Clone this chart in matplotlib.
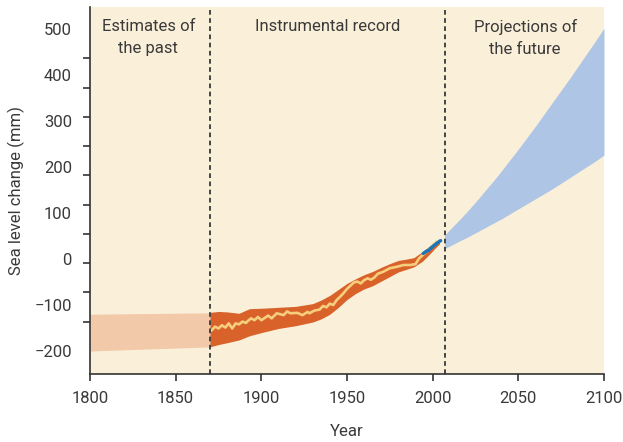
import numpy as np
import matplotlib
matplotlib.use("Agg")
import matplotlib.pyplot as plt

plt.rcParams['font.family'] = ['Roboto', 'DejaVu Sans']

# ---- data ----
past_years = [1800, 1870]
past_top = [-120, -117]
past_bottom = [-200, -191]

band_years = [1870, 1875, 1880, 1887, 1893, 1900, 1910, 1920, 1930, 1935, 1940,
              1945, 1950, 1955, 1960, 1965, 1970, 1975, 1980, 1985, 1989, 1994,
              1998, 2001, 2004]
band_top = [-116, -114, -115, -118, -108, -107, -105, -103, -97, -89, -79,
            -66, -53, -43, -34, -27, -18, -10, -3, 0, 3, 16, 28, 36, 44]
band_bottom = [-191, -186, -182, -176, -167, -160, -151, -145, -137, -130, -120,
               -105, -88, -75, -65, -58, -48, -38, -28, -22, -17, -5, 10, 22, 33]

tide_years = [1871, 1873, 1875, 1877, 1879, 1881, 1883, 1885, 1887, 1889, 1891,
              1892, 1894, 1896, 1898, 1900, 1902, 1904, 1906, 1909, 1913, 1915,
              1917, 1921, 1924, 1927, 1928, 1931, 1934, 1936, 1938, 1940, 1942,
              1944, 1946, 1948, 1950, 1952, 1954, 1956, 1958, 1960, 1962, 1964,
              1966, 1968, 1971, 1975, 1979, 1983, 1987, 1990, 1992, 1994, 1997,
              2000, 2002]
tide_values = [-155, -147, -151, -144, -149, -140, -151, -140, -142, -136, -139,
               -135, -129, -133, -126, -133, -128, -123, -129, -118, -122, -114,
               -118, -117, -122, -115, -118, -112, -110, -102, -105, -97, -100,
               -89, -82, -74, -65, -58, -51, -49, -53, -46, -42, -45,
               -40, -32, -28, -20, -17, -13, -13, -11, 1, 8, 18,
               30, 37]

sat_years = [1994.5, 1996, 1998, 1999, 2001, 2003, 2004.7]
sat_values = [12, 16, 20, 24, 30, 36, 40]

proj_years = [2007, 2011, 2015, 2020, 2025, 2030, 2035, 2040, 2045, 2050, 2055,
              2060, 2065, 2070, 2075, 2080, 2085, 2090, 2095, 2100]
proj_top = [52, 68, 83, 103, 124, 146, 168, 191, 215, 239, 264,
            289, 315, 341, 367, 393, 420, 447, 474, 502]
proj_bottom = [23, 30, 38, 47, 57, 67, 77, 87, 98, 109, 120,
               131, 142, 153, 165, 177, 189, 201, 213, 226]

divisions = [1870, 2007]
x_ticks = [1800, 1850, 1900, 1950, 2000, 2050, 2100]
y_labels = [-200, -100, 0, 100, 200, 300, 400, 500]

# ---- colours ----
bg = '#FAEFD9'
c_past = '#F2C9A9'
c_band = '#D8622A'
c_tide = '#F6CF7E'
c_sat = '#1B75BB'
c_proj = '#AFC5E6'
c_text = '#3A3A3A'

fs = 12

fig = plt.figure(figsize=(6.23, 4.42), dpi=100)
ax = fig.add_axes([90/623, 1-374/442, (604-90)/623, (374-7)/442])
ax.set_facecolor(bg)

ax.fill_between(past_years, past_bottom, past_top, color=c_past, lw=0)
ax.fill_between(band_years, band_bottom, band_top, color=c_band, lw=0)
ax.plot(tide_years, tide_values, color=c_tide, lw=1.9, solid_joinstyle='round')
ax.plot(sat_years, sat_values, color=c_sat, lw=2.4, solid_capstyle='round')
ax.fill_between(proj_years, proj_bottom, proj_top, color=c_proj, lw=0)

for d in divisions:
    ax.axvline(d, color='#444444', lw=1.4, linestyle=(0, (2.4, 1.8)))

ax.set_xlim(1800, 2100)
ax.set_ylim(-250, 548)

ax.set_xticks(x_ticks)
ax.set_yticks(y_labels)
ax.set_yticks(np.linspace(-200, 500, 12), minor=True)
ax.tick_params(axis='y', which='major', length=0, pad=13, labelsize=fs, labelcolor=c_text)
ax.tick_params(axis='y', which='minor', length=5, width=1.2, color='#333333', direction='out')
ax.tick_params(axis='x', length=5, width=1.2, color='#333333', pad=7, labelsize=fs, labelcolor=c_text)
ax.set_yticklabels(['\u2212200', '\u2212100', '0', '100', '200', '300', '400', '500'])

for s in ['top', 'right']:
    ax.spines[s].set_visible(False)
for s in ['left', 'bottom']:
    ax.spines[s].set_color('#333333')
    ax.spines[s].set_linewidth(1.2)

ax.set_xlabel('Year', fontsize=fs, color=c_text)
ax.set_ylabel('Sea level change (mm)', fontsize=fs, color=c_text)
ax.xaxis.set_label_coords(0.5, -(424 - 374) / 367)
ax.yaxis.set_label_coords(-(90 - 25) / 514, 0.5)

ax.text(1834, 522, 'Estimates of\nthe past', ha='center', va='top', fontsize=fs,
        color=c_text, linespacing=1.6)
ax.text(1938.5, 522, 'Instrumental record', ha='center', va='top', fontsize=fs,
        color=c_text)
ax.text(2054, 522, 'Projections of\nthe future', ha='center', va='top', fontsize=fs,
        color=c_text, linespacing=1.6)

fig.savefig('out.png', dpi=100, facecolor='white')
